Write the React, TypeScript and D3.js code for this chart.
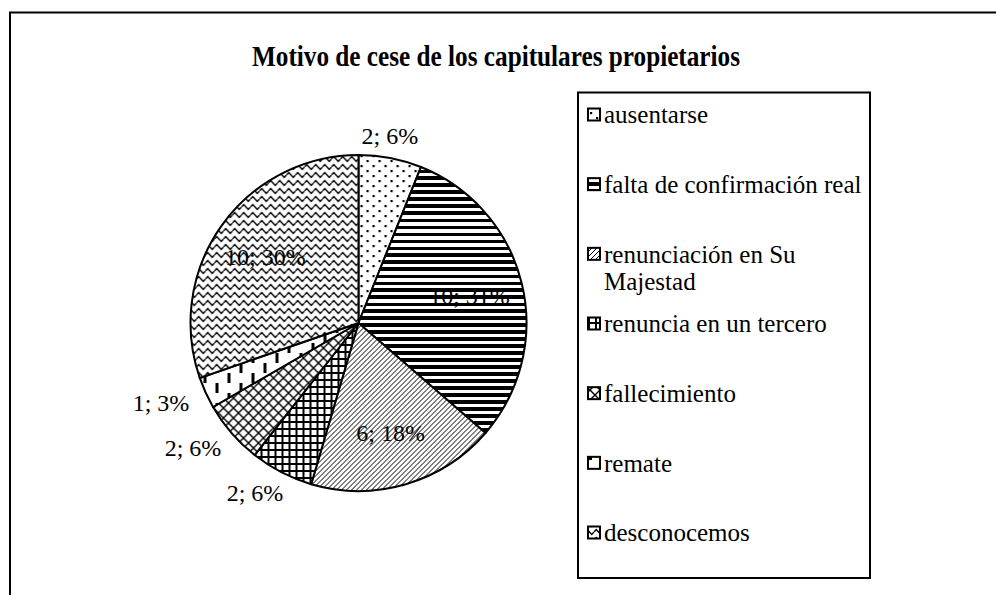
import React from 'react';
import * as d3 from 'd3';

// chart values
const categories = [
  'ausentarse',
  'falta de confirmación real',
  'renunciación en Su Majestad',
  'renuncia en un tercero',
  'fallecimiento',
  'remate',
  'desconocemos',
];
const values = [2, 10, 6, 2, 2, 1, 10];
const pctLabels = ['6%', '31%', '18%', '6%', '6%', '3%', '30%'];
const title = 'Motivo de cese de los capitulares propietarios';

const W = 996;
const H = 595;
const FONT = "'Liberation Serif', 'Times New Roman', serif";
const txt = { fontFamily: FONT };

// rough text measurement, for wrapping legend entries and placing outside labels
const measure = (text: string, size: number) => {
  const ctx = document.createElement('canvas').getContext('2d');
  if (!ctx) return text.length * size * 0.45;
  ctx.font = `${size}px 'Liberation Serif'`;
  return ctx.measureText(text).width;
};

const wrap = (text: string, size: number, maxW: number) => {
  const words = text.split(' ');
  const lines: string[] = [];
  let cur = '';
  words.forEach(w => {
    const next = cur ? cur + ' ' + w : w;
    if (cur && measure(next, size) > maxW) {
      lines.push(cur);
      cur = w;
    } else cur = next;
  });
  if (cur) lines.push(cur);
  return lines;
};

const Patterns = () => (
  <defs>
    {/* dots */}
    <pattern id="pat0" width={12} height={10} patternUnits="userSpaceOnUse">
      <rect width={12} height={10} fill="#fff" />
      <rect x={2} y={2} width={2.2} height={2.2} fill="#000" />
      <rect x={8} y={7} width={2.2} height={2.2} fill="#000" />
    </pattern>
    {/* wide horizontal */}
    <pattern id="pat1" width={8} height={7} patternUnits="userSpaceOnUse">
      <rect width={8} height={7} fill="#fff" />
      <rect y={0} width={8} height={4} fill="#000" />
    </pattern>
    {/* dense upward diagonal */}
    <pattern id="pat2" width={5} height={5} patternUnits="userSpaceOnUse">
      <rect width={5} height={5} fill="#fff" />
      <path d="M-1,6 L6,-1 M-1,1 L1,-1 M4,6 L6,4" stroke="#000" strokeWidth={1} />
    </pattern>
    {/* small grid */}
    <pattern id="pat3" width={7} height={7} patternUnits="userSpaceOnUse">
      <rect width={7} height={7} fill="#fff" />
      <rect x={0} y={0} width={7} height={2} fill="#000" />
      <rect x={0} y={0} width={2} height={7} fill="#000" />
    </pattern>
    {/* diagonal lattice */}
    <pattern id="pat4" width={10} height={10} patternUnits="userSpaceOnUse">
      <rect width={10} height={10} fill="#fff" />
      <path d="M0,0 L10,10 M10,0 L0,10" stroke="#000" strokeWidth={1.4} />
    </pattern>
    {/* dashed vertical */}
    <pattern id="pat5" width={24} height={20} patternUnits="userSpaceOnUse">
      <rect width={24} height={20} fill="#fff" />
      <rect x={1} y={0} width={3} height={10} fill="#000" />
      <rect x={13} y={10} width={3} height={10} fill="#000" />
    </pattern>
    {/* wave */}
    <pattern id="pat6" width={9} height={8} patternUnits="userSpaceOnUse">
      <rect width={9} height={8} fill="#fff" />
      <path d="M0,4 L2.25,1.5 L4.5,4 L6.75,6.5 L9,4" fill="none" stroke="#000" strokeWidth={1.4} />
    </pattern>
  </defs>
);

export default function App() {
  const cx = 358.5;
  const cy = 323;
  const r = 168;
  const labelSize = 24;
  const legendSize = 25;

  const pie = d3.pie<number>().sort(null).value(d => d);
  const arcs = pie(values);
  const total = d3.sum(values);
  const arc = d3.arc<d3.PieArcDatum<number>>().innerRadius(0).outerRadius(r);
  const inner = d3.arc<d3.PieArcDatum<number>>().innerRadius(r * 0.68).outerRadius(r * 0.68);

  const labels = arcs.map((a, i) => {
    const text = `${values[i]}; ${pctLabels[i]}`;
    const mid = (a.startAngle + a.endAngle) / 2;
    if (values[i] / total >= 0.1) {
      const [x, y] = inner.centroid(a);
      return { text, x: cx + x, y: cy + y };
    }
    // outside: box touches a point just beyond the rim
    const w = measure(text, labelSize);
    const h = labelSize * 0.9;
    const R = r + 12;
    const sx = Math.sin(mid);
    const sy = -Math.cos(mid);
    return {
      text,
      x: cx + R * sx + (w / 2) * sx - 8,
      y: cy + R * sy + (h / 2) * sy,
    };
  });

  // legend box
  const lg = { x0: 578, x1: 870, y0: 92.5, y1: 578 };
  const textX = 604;
  const legendY = d3.scaleLinear().domain([0, categories.length - 1]).range([115, 533]);

  return (
    <svg
      width={W}
      height={H}
      style={{ position: 'absolute', left: 0, top: 0, background: '#fff' }}
    >
      <Patterns />
      {/* chart area frame, runs past the right and bottom edges */}
      <rect x={10} y={12.5} width={W + 50} height={H + 50} fill="#fff" stroke="#000" strokeWidth={2} />

      <text
        x={496}
        y={66}
        textAnchor="middle"
        fontSize={30}
        fontWeight="bold"
        textLength={488}
        lengthAdjust="spacingAndGlyphs"
        style={txt}
      >
        {title}
      </text>

      <g transform={`translate(${cx},${cy})`}>
        {arcs.map((a, i) => (
          <path key={i} d={arc(a) || ''} fill={`url(#pat${i})`} stroke="#000" strokeWidth={2} strokeLinejoin="round" />
        ))}
      </g>

      {labels.map((l, i) => (
        <text key={i} x={l.x} y={l.y} dy="0.35em" textAnchor="middle" fontSize={labelSize} fill="#000" style={txt}>
          {l.text}
        </text>
      ))}

      <rect x={lg.x0} y={lg.y0} width={lg.x1 - lg.x0} height={lg.y1 - lg.y0} fill="#fff" stroke="#000" strokeWidth={2} />
      {categories.map((c, i) => {
        const y = legendY(i);
        const lines = wrap(c, legendSize, lg.x1 - textX - 6);
        return (
          <g key={c}>
            <rect x={588} y={y - 6.5} width={12} height={12} fill={`url(#pat${i})`} stroke="#000" strokeWidth={2} />
            {lines.map((t, j) => (
              <text key={j} x={textX} y={y + j * 27} dy="0.33em" fontSize={legendSize} fill="#000" style={txt}>
                {t}
              </text>
            ))}
          </g>
        );
      })}
    </svg>
  );
}
